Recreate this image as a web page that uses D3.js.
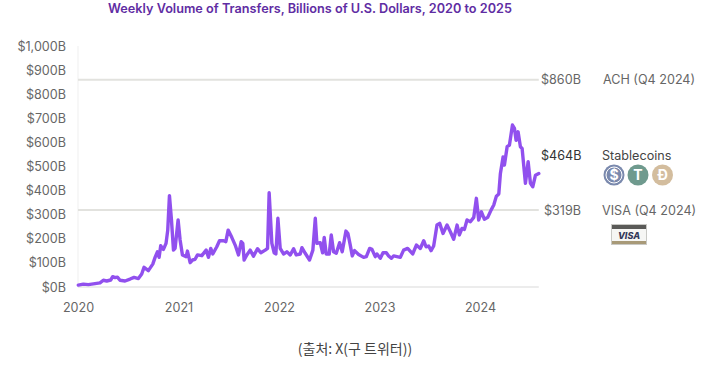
<!DOCTYPE html>
<html>
<head>
<meta charset="utf-8">
<script src="https://cdn.jsdelivr.net/npm/d3@7"></script>
<style>
    body { margin: 0; background: #fff; }
    svg { display: block; }
    text { font-family: Inter, "Noto Sans", sans-serif; }
    .axis path, .axis line { display: none; }
    .axis text { font-size: 12.6px; fill: #666; }
</style>
</head>
<body>
<div id="chart"></div>
<script>
// values, year as decimal, volume in billions
var years = [
    2020.003,2020.053,2020.103,2020.186,2020.219,2020.252,2020.286,2020.325,2020.345,2020.369,
    2020.392,2020.418,2020.468,2020.518,2020.558,2020.601,2020.634,2020.657,2020.700,2020.744,
    2020.767,2020.790,2020.807,2020.823,2020.850,2020.876,2020.893,2020.910,2020.930,2020.950,
    2020.966,2020.996,2021.016,2021.039,2021.076,2021.089,2021.116,2021.139,2021.165,2021.189,
    2021.232,2021.275,2021.298,2021.321,2021.341,2021.381,2021.408,2021.448,2021.471,2021.494,
    2021.530,2021.564,2021.597,2021.624,2021.640,2021.653,2021.680,2021.713,2021.746,2021.786,
    2021.819,2021.863,2021.886,2021.902,2021.929,2021.952,2021.969,2021.989,2022.012,2022.045,
    2022.078,2022.112,2022.145,2022.171,2022.211,
    2022.228,2022.261,2022.304,2022.337,2022.361,2022.377,2022.410,2022.434,2022.450,2022.470,
    2022.500,2022.520,2022.543,2022.570,2022.603,2022.629,2022.666,2022.686,2022.709,2022.729,
    2022.752,2022.792,2022.842,2022.869,2022.902,2022.925,2022.958,2022.975,2023.008,2023.035,
    2023.068,2023.091,2023.118,2023.141,2023.207,2023.240,2023.280,2023.330,2023.367,2023.406,
    2023.440,2023.463,2023.489,2023.513,2023.539,2023.572,2023.599,2023.632,2023.672,2023.705,
    2023.738,2023.772,2023.795,2023.821,2023.845,2023.871,2023.904,2023.938,2023.964,2023.987,
    2024.014,2024.044,2024.077,2024.110,2024.137,2024.163,2024.187,
    2024.203,2024.230,2024.243,2024.270,2024.293,2024.323,2024.343,2024.359,2024.379,2024.402,
    2024.419,2024.452,2024.479,2024.502,2024.525,2024.552,2024.585
]
var volume = [
    8,12,10,15,17,28,25,29,43,39,
    41,28,25,33,40,35,54,82,68,95,
    123,146,123,171,156,181,236,379,278,153,
    160,278,195,133,126,149,101,112,115,133,
    130,153,123,160,137,167,192,192,188,236,
    206,174,133,188,181,112,133,153,128,159,
    142,153,160,391,181,142,137,285,160,137,
    146,133,159,133,137,
    163,140,112,153,285,181,184,142,206,137,
    137,216,146,140,184,146,232,222,174,129,
    151,135,123,126,160,156,126,137,119,142,
    142,129,119,129,123,153,160,137,174,160,
    192,167,170,151,170,257,264,222,257,229,
    198,257,216,243,239,278,271,289,368,278,
    312,281,289,319,340,377,386,
    471,540,506,582,589,672,658,609,644,582,
    575,430,520,430,416,464,471
]
var yTicks = [0,100,200,300,400,500,600,700,800,900,1000]
var yTickLabels = ["$0B","$100B","$200B","$300B","$400B","$500B","$600B","$700B","$800B","$900B","$1,000B"]
var xTicks = [2020,2021,2022,2023,2024]
var refNames = ["ACH (Q4 2024)","VISA (Q4 2024)"]
var refValues = [860,319]
var refLabels = ["$860B","$319B"]

var width = 704, height = 367
var xEnd = 2024.585

var x = d3.scaleLinear().domain([2020,2024]).range([78,480])
var y = d3.scaleLinear().domain([0,1000]).range([287,46])

var svg = d3.select("#chart").append("svg")
    .attr("width", width)
    .attr("height", height)

svg.append("text")
    .attr("x", 310).attr("y", 12.5)
    .attr("text-anchor", "middle")
    .style("font-size", "12.7px")
    .style("font-weight", 600)
    .style("fill", "#5f2da3")
    .text("Weekly Volume of Transfers, Billions of U.S. Dollars, 2020 to 2025")

// axes
svg.append("g").attr("class", "axis")
    .attr("transform", "translate(70,0)")
    .call(d3.axisLeft(y).tickValues(yTicks).tickSize(0).tickPadding(4)
        .tickFormat(function(d, i){ return yTickLabels[i] }))

svg.append("g").attr("class", "axis")
    .attr("transform", "translate(0,303)")
    .call(d3.axisBottom(x).tickValues(xTicks).tickSize(0).tickPadding(0).tickFormat(d3.format("d")))

svg.append("line")
    .attr("x1", x(2020)).attr("x2", x(2020))
    .attr("y1", y(1000)).attr("y2", y(0))
    .style("stroke", "#efefef").style("stroke-width", 1)

svg.append("line")
    .attr("x1", x(2020)).attr("x2", x(xEnd))
    .attr("y1", y(0)).attr("y2", y(0))
    .style("stroke", "#e6e6e6").style("stroke-width", 1.5)

// ACH and VISA reference lines
svg.selectAll(".ref")
    .data(refValues)
    .enter()
    .append("line")
    .attr("class", "ref")
    .attr("x1", x(2020)).attr("x2", x(xEnd))
    .attr("y1", function(d){ return y(d) })
    .attr("y2", function(d){ return y(d) })
    .style("stroke", "#e2e2de").style("stroke-width", 2)

var line = d3.line()
    .x(function(d, i){ return x(years[i]) })
    .y(function(d){ return y(d) })

svg.append("path")
    .datum(volume)
    .attr("d", line)
    .style("fill", "none")
    .style("stroke", "#9150ee")
    .style("stroke-width", 3.4)
    .style("stroke-linejoin", "round")
    .style("stroke-linecap", "round")

// labels on the right
function label(px, value, txt, color) {
    svg.append("text")
        .attr("x", px).attr("y", y(value))
        .attr("dy", "0.35em")
        .style("font-size", "12.6px")
        .style("fill", color)
        .text(txt)
}
label(541, 860, refLabels[0], "#666")
label(603, 860, refNames[0], "#666")
label(544, 319, refLabels[1], "#666")
label(602, 319, refNames[1], "#666")
label(541, 546, "$464B", "#333")
label(602, 546, "Stablecoins", "#444")

// coin icons
var coins = [
    {cx: 614, fill: "#7a89ad", mark: "$"},
    {cx: 638, fill: "#6f9a8e", mark: "T"},
    {cx: 662.5, fill: "#d3bd9e", mark: "Ð"}
]
coins.forEach(function(c){
    svg.append("circle")
        .attr("cx", c.cx).attr("cy", 175).attr("r", 10.5)
        .style("fill", c.fill)
    svg.append("text")
        .attr("x", c.cx).attr("y", 175)
        .attr("dy", "0.36em")
        .attr("text-anchor", "middle")
        .style("font-size", "14px")
        .style("font-weight", 700)
        .style("fill", "#fff")
        .text(c.mark)
})
svg.append("circle")
    .attr("cx", coins[0].cx).attr("cy", 175).attr("r", 8)
    .style("fill", "none").style("stroke", "#fff").style("stroke-width", 1)

// visa card
svg.append("rect")
    .attr("x", 611.5).attr("y", 224.5).attr("width", 35).attr("height", 20)
    .style("fill", "#f6f6f4").style("stroke", "#c9c9c5")
svg.append("rect")
    .attr("x", 612).attr("y", 225).attr("width", 34).attr("height", 4)
    .style("fill", "#5a5a58")
svg.append("rect")
    .attr("x", 612).attr("y", 241).attr("width", 34).attr("height", 3)
    .style("fill", "#a89a78")
svg.append("text")
    .attr("x", 629).attr("y", 238.5)
    .attr("text-anchor", "middle")
    .style("font-size", "9px")
    .style("font-weight", 800)
    .style("font-style", "italic")
    .style("fill", "#33395a")
    .text("VISA")

svg.append("text")
    .attr("x", 355).attr("y", 349)
    .attr("dy", "0.35em")
    .attr("text-anchor", "middle")
    .style("font-family", "'Noto Sans CJK KR'")
    .style("font-size", "14px")
    .style("fill", "#444")
    .text("(출처: X(구 트위터))")
</script>
</body>
</html>
